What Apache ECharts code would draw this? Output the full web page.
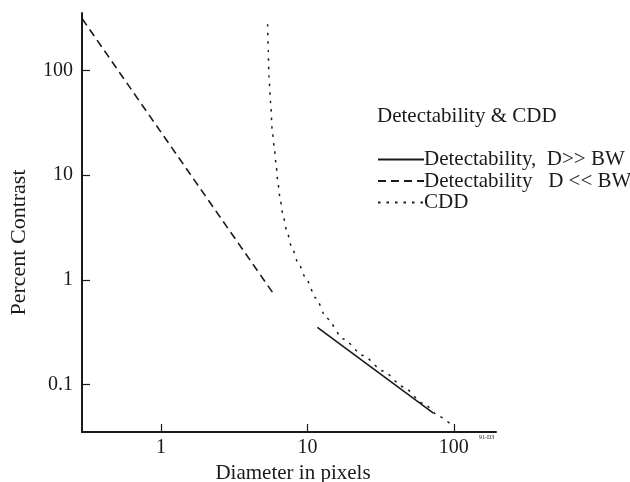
<!DOCTYPE html>
<html>
<head>
<meta charset="utf-8">
<script src="https://cdn.jsdelivr.net/npm/echarts@6/dist/echarts.min.js"></script>
<style>html,body{margin:0;padding:0;background:#fff}#c{width:630px;height:482px}</style>
</head>
<body>
<div id="c"></div>
<script>
// Axis ranges and tick labels
const xRange = [0.289, 194];
const yRange = [0.0354, 352];
const xTickLabels = ['1', '10', '100'];
const yTickLabels = ['0.1', '1', '10', '100'];

// Series names
const seriesNames = ['Detectability,  D>> BW', 'Detectability   D << BW', 'CDD'];

// Detectability, D >> BW (solid)
const solidX = [11.7, 72.5];
const solidY = [0.353, 0.0535];

// Detectability, D << BW (dashed)
const dashX = [0.29, 1, 5.82];
const dashY = [310, 25.7, 0.75];

// CDD (dotted)
const cddX = [5.35, 5.40, 5.46, 5.61, 5.75, 5.93, 6.10, 6.26, 6.49, 6.77, 7.21, 7.80, 8.65, 9.88, 11.4, 13.5, 17.6, 24.0, 32.9, 45.1, 61.7, 80.2, 98.9];
const cddY = [275, 156, 86.9, 48.8, 26.9, 18.7, 13.05, 8.98, 6.18, 4.35, 2.99, 2.07, 1.45, 1.0, 0.672, 0.433, 0.273, 0.190, 0.135, 0.0957, 0.0665, 0.0495, 0.0397];

const zip = (a, b) => a.map((v, i) => [v, b[i]]);
const FONT = 'Liberation Serif';
const INK = '#1a1a1a';

function decadeLabel(labels) {
  return function (v) {
    const l = Math.log10(v);
    const r = Math.round(l);
    if (Math.abs(l - r) > 1e-6) return '';
    const s = r < 0 ? Number(Math.pow(10, r).toFixed(-r)).toString() : String(Math.pow(10, r));
    return labels.indexOf(s) >= 0 ? s : '';
  };
}

const chart = echarts.init(document.getElementById('c'), null, { renderer: 'canvas' });
chart.setOption({
  backgroundColor: '#ffffff',
  animation: false,
  title: {
    text: 'Detectability & CDD',
    left: 377, top: 106, padding: 0,
    textStyle: { fontFamily: FONT, fontSize: 21, fontWeight: 'normal', color: INK }
  },
  legend: {
    orient: 'vertical',
    left: 377, top: 149, padding: 0,
    itemWidth: 46, itemHeight: 10, itemGap: 0.5,
    itemStyle: { opacity: 0 },
    textStyle: { fontFamily: FONT, fontSize: 21, color: INK, lineHeight: 21, padding: [0, 0, 0, -5] },
    data: seriesNames
  },
  grid: { left: 82, right: 134, top: 13, bottom: 50, containLabel: false, outerBoundsMode: 'none' },
  xAxis: {
    type: 'log', logBase: 10, min: xRange[0], max: xRange[1],
    name: 'Diameter in pixels', nameLocation: 'middle', nameGap: 31,
    nameTextStyle: { fontFamily: FONT, fontSize: 21, color: INK, padding: [0, 0, 0, 8] },
    axisLine: { show: true, lineStyle: { color: INK, width: 2 } },
    axisTick: { show: true, inside: true, length: 8, lineStyle: { color: INK, width: 1.2 } },
    minorTick: { show: false },
    axisLabel: { fontFamily: FONT, fontSize: 20, color: INK, margin: 6, formatter: decadeLabel(xTickLabels), showMinLabel: false, showMaxLabel: false },
    splitLine: { show: false }
  },
  yAxis: {
    type: 'log', logBase: 10, min: yRange[0], max: yRange[1],
    name: 'Percent Contrast', nameLocation: 'middle', nameGap: 52, nameRotate: 90,
    nameTextStyle: { fontFamily: FONT, fontSize: 22, color: INK, padding: [0, 0, 0, -40] },
    axisLine: { show: true, lineStyle: { color: INK, width: 2 } },
    axisTick: { show: true, inside: true, length: 8, lineStyle: { color: INK, width: 1.2 } },
    minorTick: { show: false },
    axisLabel: { fontFamily: FONT, fontSize: 20, color: INK, margin: 9, formatter: decadeLabel(yTickLabels), showMinLabel: false, showMaxLabel: false },
    splitLine: { show: false }
  },
  graphic: [
    { type: 'text', left: 479, top: 434, style: { text: '91-D3', fontSize: 6, fontFamily: FONT, fill: INK } }
  ],
  series: [
    {
      name: seriesNames[0], type: 'line', data: zip(solidX, solidY),
      symbol: 'none', color: INK,
      lineStyle: { color: INK, width: 1.6, type: 'solid' }
    },
    {
      name: seriesNames[1], type: 'line', data: zip(dashX, dashY),
      symbol: 'none', color: INK,
      lineStyle: { color: INK, width: 1.6, type: [8, 5] }
    },
    {
      name: seriesNames[2], type: 'line', data: zip(cddX, cddY),
      symbol: 'none', smooth: 0.25, smoothMonotone: 'x', color: INK,
      lineStyle: { color: INK, width: 1.5, type: [2.5, 6] }
    }
  ]
});
</script>
</body>
</html>
